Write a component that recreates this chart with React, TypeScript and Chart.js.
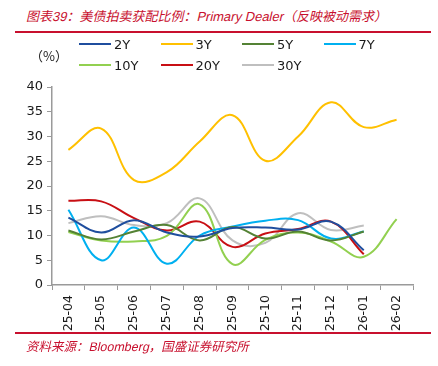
import React, { useEffect, useRef } from "react";
import { Chart, registerables } from "chart.js";

Chart.register(...registerables);

const categories = ["25-04", "25-05", "25-06", "25-07", "25-08", "25-09", "25-10", "25-11", "25-12", "26-01", "26-02"];
const s2Y = [13.6, 10.6, 13.1, 10.6, 9.8, 11.5, 11.6, 11.2, 12.8, 7.0, null];
const s3Y = [27.3, 31.6, 21.2, 22.8, 29.0, 34.3, 25.1, 30.0, 36.9, 31.9, 33.4];
const s5Y = [11.0, 9.2, 10.8, 12.1, 9.0, 11.7, 9.4, 10.8, 9.0, 10.8, null];
const s7Y = [15.2, 5.0, 11.6, 4.3, 10.0, 11.8, 13.0, 13.1, 9.4, 10.8, null];
const s10Y = [10.7, 9.0, 8.8, 9.9, 16.3, 4.2, 9.1, 10.6, 8.8, 5.7, 13.3];
const s20Y = [17.0, 16.9, 13.5, 11.0, 12.8, 7.7, 10.4, 11.3, 12.8, 6.2, null];
const s30Y = [12.5, 13.9, 12.1, 12.5, 17.5, 9.0, 8.5, 14.5, 11.1, 12.0, null];
const yTicks = [0, 5, 10, 15, 20, 25, 30, 35, 40];

const seriesNames = ["2Y", "3Y", "5Y", "7Y", "10Y", "20Y", "30Y"];
const seriesData = [s2Y, s3Y, s5Y, s7Y, s10Y, s20Y, s30Y];
const seriesColors = ["#1F4E9E", "#FFC000", "#548235", "#00B0F0", "#92D050", "#C80F14", "#BFBFBF"];

const RED = "#C8102E";
const TICK_FONT = "Tahoma, 'DejaVu Sans', sans-serif";

export default function App() {
  const ref = useRef<HTMLCanvasElement | null>(null);

  useEffect(() => {
    if (!ref.current) return;
    const chart = new Chart(ref.current, {
      type: "line",
      data: {
        labels: categories,
        datasets: seriesNames.map((n, i) => ({
          label: n,
          data: seriesData[i],
          borderColor: seriesColors[i],
          backgroundColor: seriesColors[i],
          borderWidth: 2,
          pointRadius: 0,
          tension: 0.4,
          fill: false,
          spanGaps: false,
        })),
      },
      options: {
        animation: false,
        responsive: false,
        maintainAspectRatio: false,
        layout: { padding: { top: 87, right: 25, bottom: 31, left: 0 } },
        plugins: { legend: { display: false }, tooltip: { enabled: false } },
        scales: {
          x: {
            type: "category",
            offset: true,
            grid: { offset: true, drawOnChartArea: false, drawTicks: true, tickLength: 5, color: "#9a9a9a" },
            border: { color: "#9a9a9a", width: 1.5 },
            ticks: {
              maxRotation: 90,
              minRotation: 90,
              autoSkip: false,
              padding: 5,
              color: "#1a1a1a",
              font: { family: TICK_FONT, size: 12.5 },
            },
            afterFit: (s: any) => {
              s.height = 50;
            },
          },
          y: {
            min: 0,
            max: 40,
            afterBuildTicks: (s: any) => {
              s.ticks = yTicks.map((v) => ({ value: v }));
            },
            grid: { drawOnChartArea: false, drawTicks: true, tickLength: 5, color: "#9a9a9a" },
            border: { color: "#9a9a9a", width: 1.5 },
            ticks: {
              padding: 4,
              color: "#1a1a1a",
              font: { family: TICK_FONT, size: 13 },
            },
            afterFit: (s: any) => {
              s.width = 52;
            },
          },
        },
      },
    });
    return () => chart.destroy();
  }, []);

  const italicRed: React.CSSProperties = {
    position: "absolute",
    color: RED,
    fontStyle: "normal",
    transform: "skewX(-13deg)",
    transformOrigin: "left bottom",
    fontFamily: "Arial, 'Liberation Sans', 'Noto Sans CJK SC', sans-serif",
    whiteSpace: "nowrap",
  };

  return (
    <div style={{ position: "absolute", left: 0, top: 0, width: 438, height: 366, background: "#fff", overflow: "hidden" }}>
      <div style={{ ...italicRed, left: 25, top: 6, fontSize: 13 }}>
        图表39：美债拍卖获配比例：Primary Dealer（反映被动需求）
      </div>
      <div style={{ position: "absolute", left: 15, top: 31, width: 416, height: 2, background: RED }} />
      <canvas ref={ref} width={438} height={366} style={{ position: "absolute", left: 0, top: 0 }} />
      <div
        style={{
          position: "absolute",
          left: 30,
          top: 46,
          fontSize: 13,
          fontFamily: "'Noto Sans CJK SC', sans-serif",
          color: "#1a1a1a",
        }}
      >
        （%）
      </div>
      {seriesNames.map((n, i) => {
        const col = i % 4;
        const row = Math.floor(i / 4);
        return (
          <div
            key={n}
            style={{
              position: "absolute",
              left: 79 + col * 81.5,
              top: 36 + row * 21,
              height: 16,
              display: "flex",
              alignItems: "center",
              fontFamily: TICK_FONT,
              fontSize: 13,
              color: "#1a1a1a",
            }}
          >
            <span style={{ display: "inline-block", width: 32, height: 2, background: seriesColors[i], marginRight: 3 }} />
            <span>{n}</span>
          </div>
        );
      })}
      <div style={{ position: "absolute", left: 15, top: 332, width: 416, height: 2, background: RED }} />
      <div style={{ ...italicRed, left: 25, top: 336, fontSize: 12.5 }}>
        资料来源：Bloomberg，国盛证券研究所
      </div>
    </div>
  );
}
